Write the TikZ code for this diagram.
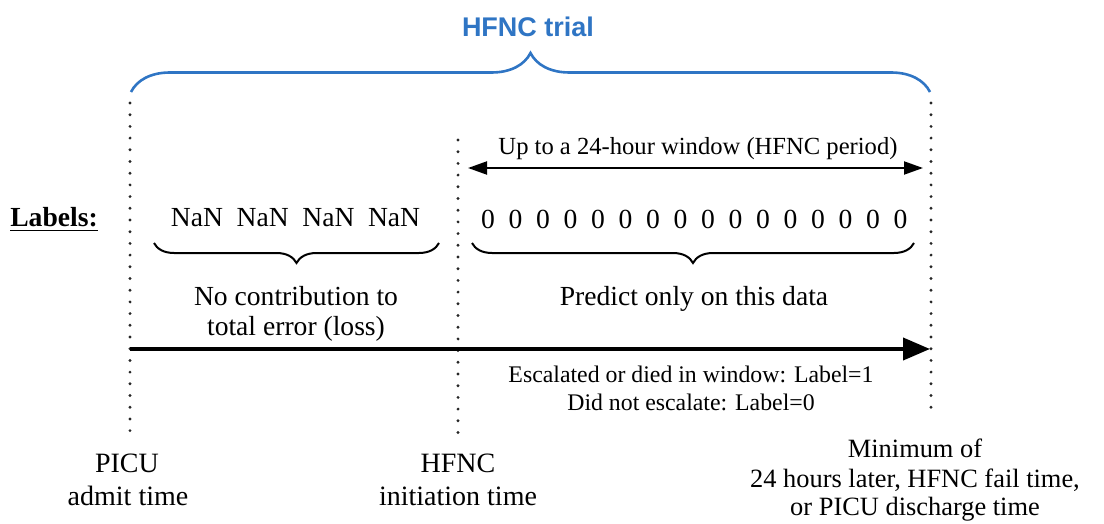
\documentclass[tikz,border=0pt]{standalone}
\usepackage{fontspec}
\setmainfont{Liberation Serif}
\newfontfamily\titlefont{Liberation Sans}
\usetikzlibrary{arrows.meta,decorations.pathreplacing}
\definecolor{hblue}{RGB}{47,117,196}
\begin{document}
\begin{tikzpicture}[x=0.5pt,y=-0.5pt,
  txt/.style={inner sep=0pt, anchor=base, font=\fontsize{13.8pt}{16pt}\selectfont},
  smalltxt/.style={inner sep=0pt, anchor=base, font=\fontsize{11.9pt}{14pt}\selectfont},
  captxt/.style={inner sep=0pt, anchor=base, font=\fontsize{14pt}{16pt}\selectfont},
  rcaptxt/.style={inner sep=0pt, anchor=base, font=\fontsize{13.2pt}{16pt}\selectfont},
  dotline/.style={line width=1.6pt, line cap=round, dash pattern=on 0pt off 5.85pt, black!85},
  bbrace/.style={decorate, decoration={brace, mirror, amplitude=10pt}, line width=1pt},
  tbrace/.style={decorate, decoration={brace, amplitude=19.5pt}, line width=1.3pt, hblue},
  mainarrow/.style={line width=2pt, -{Triangle[length=13.5pt,width=11pt]}},
  winarrow/.style={line width=1pt, {Triangle[length=9.5pt,width=6.5pt]}-{Triangle[length=9.5pt,width=6.5pt]}},
]
\path[use as bounding box] (0,0) rectangle (1104,524);

% title and top brace
\node[inner sep=0pt, anchor=base, text=hblue, font=\titlefont\bfseries\fontsize{13.5pt}{16pt}\selectfont] (title) at (528,37) {HFNC trial};
\coordinate (bl) at (131,92);
\coordinate (br) at (930,92);
\draw[tbrace] (bl) -- (br);

% dotted time markers
\coordinate (l1) at (130,103); \coordinate (l2) at (130,435);
\coordinate (m1) at (458,140); \coordinate (m2) at (458,435);
\coordinate (r1) at (931,103); \coordinate (r2) at (931,412);
\draw[dotline] (l1) -- (l2);
\draw[dotline] (m1) -- (m2);
\draw[dotline] (r1) -- (r2);

% window arrow
\node[smalltxt, font=\fontsize{12.3pt}{14pt}\selectfont] (win) at (698,155) {Up to a 24-hour window (HFNC period)};
\coordinate (w1) at (468,168);
\coordinate (w2) at (923,168);
\draw[winarrow] (w1) -- (w2);

% labels row
\node[txt, font=\bfseries\fontsize{13.8pt}{16pt}\selectfont] (lab) at (54,227) {\underline{Labels:}};
\foreach \i in {0,...,3}
  \node[txt] (nan\i) at (197+65.7*\i,227) {NaN};
\foreach \i in {0,...,15}
  \node[txt] (z\i) at (488+27.5*\i,228) {0};

% braces under labels
\coordinate (nb1) at (154,243); \coordinate (nb2) at (439,243);
\coordinate (zb1) at (472,243); \coordinate (zb2) at (914,243);
\draw[bbrace] (nb1) -- (nb2);
\draw[bbrace] (zb1) -- (zb2);

\node[txt] (nc1) at (296,305) {No contribution to};
\node[txt] (nc2) at (296,335) {total error (loss)};
\node[txt] (pred) at (694,306) {Predict only on this data};

% main time arrow
\coordinate (a1) at (130,349);
\coordinate (a2) at (930,349);
\draw[mainarrow] (a1) -- (a2);

\node[smalltxt] (esc) at (691,382) {Escalated or died in window: Label=1};
\node[smalltxt] (dne) at (691,410) {Did not escalate: Label=0};

% captions
\node[captxt] (pc1) at (127,472) {PICU};
\node[captxt] (pc2) at (128,505) {admit time};
\node[captxt] (hc1) at (458,472) {HFNC};
\node[captxt] (hc2) at (458,505) {initiation time};
\node[rcaptxt] (rc1) at (915,457) {Minimum of};
\node[rcaptxt] (rc2) at (915,487) {24 hours later, HFNC fail time,};
\node[rcaptxt] (rc3) at (915,515) {or PICU discharge time};
\end{tikzpicture}
\end{document}
